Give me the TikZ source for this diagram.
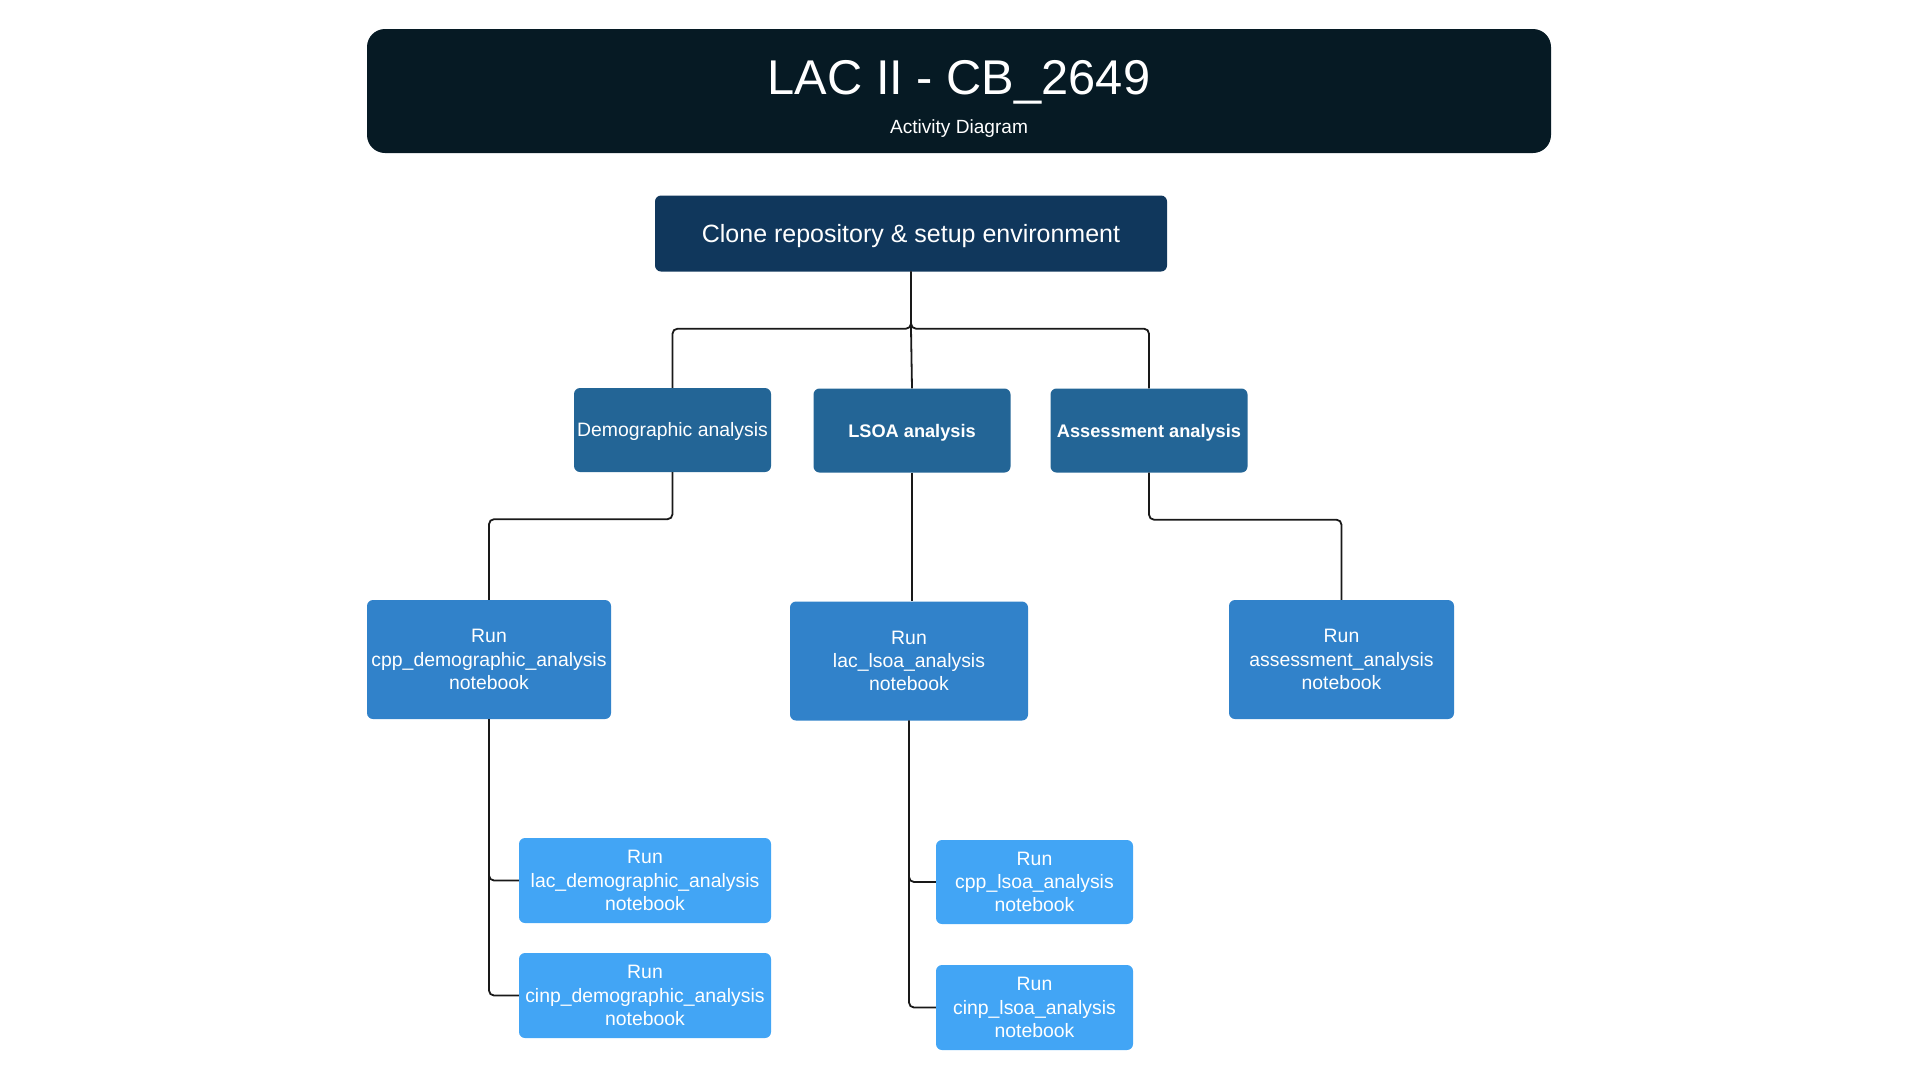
\documentclass[tikz,border=0pt]{standalone}
\usepackage{fontspec}
\setmainfont{Liberation Sans}
\definecolor{titlebg}{HTML}{061A24}
\definecolor{lvlone}{HTML}{10375C}
\definecolor{lvltwo}{HTML}{236596}
\definecolor{lvlthree}{HTML}{3182CA}
\definecolor{lvlfour}{HTML}{42A5F5}
\begin{document}
\begin{tikzpicture}[x=1pt,y=-1pt,
  boxbase/.style={rounded corners=6pt, inner sep=0pt, align=center, text=white,
    font=\fontsize{19.4}{23.3}\selectfont},
  clonebox/.style={boxbase, fill=lvlone, minimum width=512pt, minimum height=76pt,
    font=\fontsize{25}{30}\selectfont, text height=17.9pt, text depth=0pt},
  secbox/.style={boxbase, fill=lvltwo, minimum width=197pt, minimum height=84pt,
    text height=13.9pt, text depth=0pt},
  boldlabel/.style={font=\fontsize{18.2}{22}\selectfont\bfseries, text height=13pt},
  runbox/.style={boxbase, fill=lvlthree, minimum height=119pt},
  subbox/.style={boxbase, fill=lvlfour, minimum height=85pt},
  link/.style={draw=black!90, line width=1.8pt, rounded corners=5pt}
]
\useasboundingbox (0,0) rectangle (1920,1080);
% title
\node[fill=titlebg, rounded corners=18pt, minimum width=1184pt, minimum height=124pt, inner sep=0pt] (title) at (959,91) {};
\node[anchor=base, text=white, inner sep=0pt, font=\fontsize{48.8}{58}\selectfont] (titletext) at (959,94) {LAC II - CB\_2649};
\node[anchor=base, text=white, inner sep=0pt, font=\fontsize{19.1}{22}\selectfont] (subtitle) at (959,133.5) {Activity Diagram};
% nodes
\node[clonebox] (clone) at (911,233.5) {Clone repository \& setup environment};
\node[secbox] (demo) at (672.5,430) {Demographic analysis};
\node[secbox, boldlabel] (lsoa) at (912,430.5) {LSOA analysis};
\node[secbox, boldlabel] (assess) at (1149,430.5) {Assessment analysis};
\node[runbox, minimum width=244pt] (cpp) at (489,659.5) {Run\\cpp\_demographic\_analysis\\notebook};
\node[runbox, minimum width=238pt] (laclsoa) at (909,661) {Run\\lac\_lsoa\_analysis\\notebook};
\node[runbox, minimum width=225pt] (asmt) at (1341.5,659.5) {Run\\assessment\_analysis\\notebook};
\node[subbox, minimum width=252pt] (lacdemo) at (645,880.5) {Run\\lac\_demographic\_analysis\\notebook};
\node[subbox, minimum width=252pt] (cinpdemo) at (645,995.5) {Run\\cinp\_demographic\_analysis\\notebook};
\node[subbox, minimum width=197pt, minimum height=84pt] (cpplsoa) at (1034.5,882) {Run\\cpp\_lsoa\_analysis\\notebook};
\node[subbox, minimum width=197pt, minimum height=85pt] (cinplsoa) at (1034.5,1007.5) {Run\\cinp\_lsoa\_analysis\\notebook};
% connectors
\draw[link] (clone.south) -- ++(0,57) -| (demo.north);
\draw[link] (clone.south) -- ++(0,57) -- (lsoa.north);
\draw[link] (clone.south) -- ++(0,57) -| (assess.north);
\draw[link] (demo.south) -- ++(0,47) -| (cpp.north);
\draw[link] (lsoa.south) -- (lsoa.south |- laclsoa.north);
\draw[link] (assess.south) -- ++(0,47) -| (asmt.north);
\draw[link] (cpp.south) |- (lacdemo.west);
\draw[link] (cpp.south) |- (cinpdemo.west);
\draw[link] (laclsoa.south) |- (cpplsoa.west);
\draw[link] (laclsoa.south) |- (cinplsoa.west);
\end{tikzpicture}
\end{document}
